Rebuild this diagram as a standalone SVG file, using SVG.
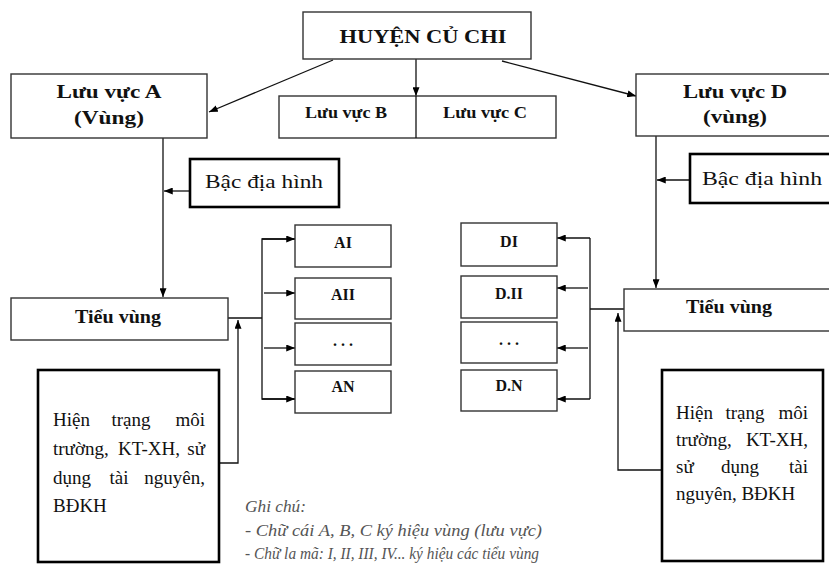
<svg xmlns="http://www.w3.org/2000/svg" width="829" height="570" viewBox="0 0 829 570">
<defs>
<marker id="ah" viewBox="0 0 10 8" refX="10" refY="4" markerWidth="9" markerHeight="7" markerUnits="userSpaceOnUse" orient="auto">
<path d="M0,0 L10,4 L0,8 z" fill="#000"/>
</marker>
<style>
.box{fill:#fff;stroke:#333;stroke-width:1.4}
.tbox{fill:#fff;stroke:#000;stroke-width:2.6}
.b{font-family:"Liberation Serif","Times New Roman",serif;font-weight:bold;fill:#111;text-anchor:middle}
.r{font-family:"Liberation Serif","Times New Roman",serif;fill:#111;font-size:19px}
.n{font-family:"Liberation Serif","Times New Roman",serif;font-style:italic;fill:#555;font-size:16px}
.c{fill:none;stroke:#111;stroke-width:1.3}
</style>
</defs>
<rect width="829" height="570" fill="#fff"/>

<g id="connectors">
<line class="c" x1="333" y1="60" x2="209" y2="112" marker-end="url(#ah)"/>
<line class="c" x1="416" y1="59" x2="416" y2="96" marker-end="url(#ah)"/>
<line class="c" x1="502" y1="61" x2="636" y2="96" marker-end="url(#ah)"/>
<line class="c" x1="163" y1="138" x2="163" y2="297" marker-end="url(#ah)"/>
<line class="c" x1="190" y1="191" x2="164" y2="191" marker-end="url(#ah)"/>
<line class="c" x1="656" y1="136" x2="656" y2="288" marker-end="url(#ah)"/>
<line class="c" x1="690" y1="180" x2="657" y2="180" marker-end="url(#ah)"/>
<polyline class="c" points="228,318 262,318"/>
<polyline class="c" points="295,239 262,239 262,399 295,399"/>
<line class="c" x1="262" y1="239" x2="295" y2="239" marker-end="url(#ah)"/>
<line class="c" x1="264" y1="293" x2="295" y2="293" marker-end="url(#ah)"/>
<line class="c" x1="264" y1="348" x2="295" y2="348" marker-end="url(#ah)"/>
<line class="c" x1="262" y1="399" x2="295" y2="399" marker-end="url(#ah)"/>
<polyline class="c" points="219,463 238,463 238,320" marker-end="url(#ah)"/>
<polyline class="c" points="624,309 590,309"/>
<polyline class="c" points="590,238 590,399"/>
<line class="c" x1="590" y1="238" x2="557" y2="238" marker-end="url(#ah)"/>
<line class="c" x1="588" y1="288" x2="557" y2="288" marker-end="url(#ah)"/>
<line class="c" x1="588" y1="348" x2="557" y2="348" marker-end="url(#ah)"/>
<line class="c" x1="590" y1="399" x2="557" y2="399" marker-end="url(#ah)"/>
<polyline class="c" points="662,470 618,470 618,313" marker-end="url(#ah)"/>
</g>

<g id="huyen">
<rect class="box" x="303" y="12" width="228" height="47"/>
<text class="b" x="423" y="43" font-size="19" textLength="167" lengthAdjust="spacingAndGlyphs">HUYỆN CỦ CHI</text>
</g>

<g id="luuvucA">
<rect class="box" x="11" y="74" width="196" height="64"/>
<text class="b" x="109" y="98" font-size="19" textLength="105" lengthAdjust="spacingAndGlyphs">Lưu vực A</text>
<text class="b" x="109" y="124" font-size="19" textLength="70" lengthAdjust="spacingAndGlyphs">(Vùng)</text>
</g>

<g id="luuvucBC">
<rect class="box" x="279" y="96" width="277" height="42"/>
<line x1="416" y1="96" x2="416" y2="138" stroke="#111" stroke-width="1.3"/>
<text class="b" x="346" y="118" font-size="16" textLength="82" lengthAdjust="spacingAndGlyphs">Lưu vực B</text>
<text class="b" x="485" y="118" font-size="16" textLength="84" lengthAdjust="spacingAndGlyphs">Lưu vực C</text>
</g>

<g id="luuvucD">
<rect class="box" x="636" y="74" width="200" height="62"/>
<text class="b" x="735" y="98" font-size="19" textLength="104" lengthAdjust="spacingAndGlyphs">Lưu vực D</text>
<text class="b" x="735" y="123" font-size="19" textLength="64" lengthAdjust="spacingAndGlyphs">(vùng)</text>
</g>

<g id="bacA">
<rect class="tbox" x="190" y="159" width="149" height="48"/>
<text class="r" x="205" y="188" font-size="20" textLength="118" lengthAdjust="spacingAndGlyphs">Bậc địa hình</text>
</g>

<g id="bacD">
<rect class="tbox" x="690" y="154" width="150" height="49"/>
<text class="r" x="702" y="185" font-size="20" textLength="120" lengthAdjust="spacingAndGlyphs">Bậc địa hình</text>
</g>

<g id="tieuvungA">
<rect class="box" x="11" y="298" width="217" height="42"/>
<text class="b" x="118" y="323" font-size="19" textLength="86" lengthAdjust="spacingAndGlyphs">Tiểu vùng</text>
</g>

<g id="tieuvungD">
<rect class="box" x="624" y="289" width="212" height="42"/>
<text class="b" x="729" y="313" font-size="19" textLength="86" lengthAdjust="spacingAndGlyphs">Tiểu vùng</text>
</g>

<g id="AI"><rect class="box" x="295" y="225" width="96" height="42"/><text class="b" x="343" y="248" font-size="16">AI</text></g>
<g id="AII"><rect class="box" x="295" y="278" width="96" height="41"/><text class="b" x="343" y="300" font-size="16">AII</text></g>
<g id="Adots"><rect class="box" x="295" y="323" width="96" height="42"/><text class="b" x="343" y="346" font-size="16">. . .</text></g>
<g id="AN"><rect class="box" x="295" y="371" width="96" height="42"/><text class="b" x="343" y="392" font-size="16">AN</text></g>

<g id="DI"><rect class="box" x="461" y="223" width="96" height="43"/><text class="b" x="509" y="247" font-size="16">DI</text></g>
<g id="DII"><rect class="box" x="461" y="276" width="96" height="42"/><text class="b" x="509" y="299" font-size="16">D.II</text></g>
<g id="Ddots"><rect class="box" x="461" y="322" width="96" height="41"/><text class="b" x="509" y="345" font-size="16">. . .</text></g>
<g id="DN"><rect class="box" x="461" y="370" width="96" height="41"/><text class="b" x="509" y="391" font-size="16">D.N</text></g>

<g id="hientrangA">
<rect class="tbox" x="38" y="370" width="181" height="192"/>
<text class="r" x="53" y="426">Hiện</text>
<text class="r" x="131" y="426" text-anchor="middle">trạng</text>
<text class="r" x="205" y="426" text-anchor="end">môi</text>
<text class="r" x="53" y="455">trường,</text>
<text class="r" x="149" y="455" text-anchor="middle">KT-XH,</text>
<text class="r" x="205" y="455" text-anchor="end">sử</text>
<text class="r" x="53" y="484">dụng</text>
<text class="r" x="119" y="484" text-anchor="middle">tài</text>
<text class="r" x="205" y="484" text-anchor="end">nguyên,</text>
<text class="r" x="53" y="512">BĐKH</text>
</g>

<g id="hientrangD">
<rect class="tbox" x="662" y="370" width="161" height="191"/>
<text class="r" x="676" y="419">Hiện</text>
<text class="r" x="745" y="419" text-anchor="middle">trạng</text>
<text class="r" x="808" y="419" text-anchor="end">môi</text>
<text class="r" x="676" y="446">trường,</text>
<text class="r" x="808" y="446" text-anchor="end">KT-XH,</text>
<text class="r" x="676" y="473">sử</text>
<text class="r" x="740" y="473" text-anchor="middle">dụng</text>
<text class="r" x="808" y="473" text-anchor="end">tài</text>
<text class="r" x="676" y="500">nguyên, BĐKH</text>
</g>

<g id="ghichu">
<text class="n" x="245" y="512" textLength="61" lengthAdjust="spacingAndGlyphs">Ghi chú:</text>
<text class="n" x="245" y="536" textLength="297" lengthAdjust="spacingAndGlyphs">- Chữ cái A, B, C ký hiệu vùng (lưu vực)</text>
<text class="n" x="245" y="559" font-size="17" textLength="294" lengthAdjust="spacingAndGlyphs">- Chữ la mã: I, II, III, IV... ký hiệu các tiểu vùng</text>
</g>
</svg>
